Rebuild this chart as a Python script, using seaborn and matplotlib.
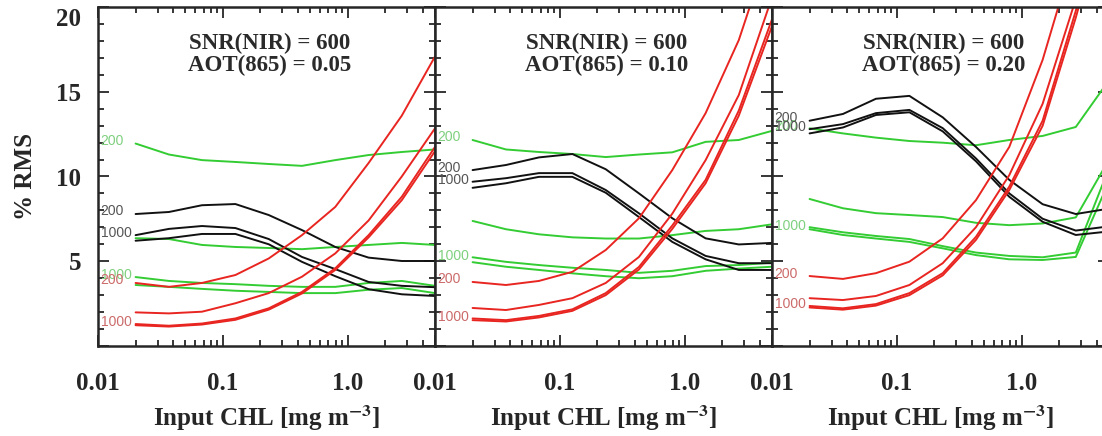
import numpy as np
import pandas as pd
import matplotlib
matplotlib.use("Agg")
import matplotlib.pyplot as plt
import matplotlib.transforms as mtransforms
import seaborn as sns
from matplotlib.ticker import FixedLocator, MultipleLocator, LogLocator, NullFormatter

# Input chlorophyll values (x positions of the curve vertices)
chl = [0.02, 0.037, 0.068, 0.126, 0.233, 0.43, 0.795, 1.47, 2.71, 5.0]

# AOT(865) = 0.05
green_005 = [[11.95, 11.3, 10.97, 10.86, 10.74, 10.63, 10.97, 11.27, 11.45, 11.6],
             [6.35, 6.3, 5.95, 5.83, 5.77, 5.7, 5.83, 5.95, 6.07, 5.95],
             [4.05, 3.82, 3.7, 3.63, 3.53, 3.47, 3.47, 3.7, 3.82, 3.53],
             [3.58, 3.47, 3.35, 3.24, 3.17, 3.1, 3.1, 3.3, 3.4, 3.1]]
black_005 = [[7.78, 7.9, 8.3, 8.37, 7.72, 6.83, 5.83, 5.2, 5.0, 5.0],
             [6.53, 6.9, 7.07, 6.95, 6.3, 5.24, 4.52, 3.76, 3.53, 3.45],
             [6.2, 6.35, 6.6, 6.6, 5.99, 4.95, 4.1, 3.33, 3.03, 2.93]]
red_005 = [[3.7, 3.47, 3.7, 4.17, 5.15, 6.53, 8.2, 10.8, 13.6, 17.1],
           [1.96, 1.9, 2.0, 2.5, 3.1, 4.07, 5.45, 7.4, 10.0, 12.85],
           [1.27, 1.17, 1.3, 1.6, 2.2, 3.17, 4.57, 6.53, 8.8, 11.75],
           [1.2, 1.12, 1.24, 1.52, 2.12, 3.08, 4.47, 6.4, 8.6, 11.5]]

# AOT(865) = 0.10
green_010 = [[12.16, 11.6, 11.45, 11.33, 11.15, 11.3, 11.43, 12.05, 12.16, 12.7],
             [7.37, 6.88, 6.58, 6.4, 6.33, 6.33, 6.53, 6.78, 6.88, 7.17],
             [5.22, 4.95, 4.76, 4.6, 4.47, 4.3, 4.42, 4.7, 4.76, 4.9],
             [4.93, 4.66, 4.47, 4.27, 4.1, 3.98, 4.1, 4.42, 4.55, 4.66]]
black_010 = [[10.38, 10.68, 11.13, 11.33, 10.43, 9.0, 7.53, 6.34, 5.98, 6.07],
             [9.69, 9.9, 10.2, 10.2, 9.2, 7.82, 6.34, 5.3, 4.87, 4.87],
             [9.33, 9.6, 9.98, 9.98, 9.04, 7.6, 6.13, 5.1, 4.47, 4.47]]
red_010 = [[3.76, 3.58, 3.82, 4.36, 5.65, 7.53, 10.38, 13.75, 18.07, 24.0],
           [2.22, 2.1, 2.4, 2.8, 3.7, 5.24, 7.8, 10.97, 14.82, 20.6],
           [1.6, 1.5, 1.75, 2.14, 3.1, 4.65, 7.1, 9.8, 13.9, 19.3],
           [1.5, 1.42, 1.66, 2.05, 2.98, 4.5, 6.9, 9.6, 13.6, 18.9]]

# AOT(865) = 0.20
green_020 = [[12.85, 12.55, 12.3, 12.1, 12.0, 11.85, 12.16, 12.4, 12.93, 15.7],
             [8.67, 8.12, 7.83, 7.72, 7.6, 7.26, 7.12, 7.22, 7.58, 11.0],
             [7.0, 6.7, 6.48, 6.3, 5.88, 5.5, 5.3, 5.22, 5.5, 10.5],
             [6.88, 6.54, 6.33, 6.13, 5.75, 5.35, 5.1, 5.06, 5.24, 9.7]]
black_020 = [[13.3, 13.7, 14.6, 14.77, 13.5, 11.75, 9.8, 8.36, 7.78, 8.1],
             [12.8, 13.1, 13.75, 13.94, 12.86, 11.07, 9.0, 7.5, 6.8, 7.05],
             [12.55, 12.9, 13.64, 13.8, 12.67, 10.9, 8.8, 7.32, 6.54, 6.75]]
red_020 = [[4.11, 3.94, 4.28, 4.96, 6.34, 8.6, 11.75, 16.9, 23.5, 30.0],
           [2.8, 2.69, 2.93, 3.58, 4.87, 7.0, 10.08, 14.3, 20.5, 28.0],
           [2.34, 2.2, 2.45, 3.1, 4.28, 6.43, 9.4, 13.3, 19.8, 27.0],
           [2.25, 2.12, 2.36, 2.98, 4.15, 6.25, 9.2, 13.0, 19.4, 26.5]]

aot_labels = ["0.05", "0.10", "0.20"]
snr_nir = 600
curve_labels = ["200", "1000"]
x_ticks = [0.01, 0.1, 1.0]
x_ticklabels = ["0.01", "0.1", "1.0"]
y_ticks = [5, 10, 15, 20]

panels = [(green_005, black_005, red_005),
          (green_010, black_010, red_010),
          (green_020, black_020, red_020)]

line_colors = ["#33cc33", "#111111", "#e82520"]
text_colors = ["#7fd07f", "#555555", "#cc6a6a"]

sns.set_style("ticks")
plt.rcParams["font.family"] = ["Liberation Serif", "DejaVu Serif"]
plt.rcParams["mathtext.fontset"] = "stix"

W, H = 1102, 436
fig = plt.figure(figsize=(W / 100, H / 100), dpi=100)

ax_w = 337
lefts = [98, 435, 772]
bottom_px, top_px = 345.5, 7.5

for i, (groups, aot) in enumerate(zip(panels, aot_labels)):
    ax = fig.add_axes([lefts[i] / W, (H - bottom_px) / H, ax_w / W, (bottom_px - top_px) / H])
    for lines, lc, tc in zip(groups, line_colors, text_colors):
        for vals in lines:
            sns.lineplot(x=chl, y=vals, ax=ax, color=lc, lw=1.4, estimator=None, sort=False)
        # curve labels next to the start of the 200 / 1000 curves
        ax.text(0.0105, lines[0][0] + 0.15, curve_labels[0], color=tc, fontsize=10,
                family="Liberation Sans", ha="left", va="center")
        ax.text(0.0105, lines[-2][0] + 0.1, curve_labels[1], color=tc, fontsize=10,
                family="Liberation Sans", ha="left", va="center")

    ax.set_xscale("log")
    ax.set_xlim(0.01, 5.0)
    ax.set_ylim(0, 20)
    ax.xaxis.set_major_locator(FixedLocator(x_ticks))
    ax.set_xticklabels(x_ticklabels)
    ax.xaxis.set_minor_locator(LogLocator(base=10, subs=np.arange(2, 10)))
    ax.xaxis.set_minor_formatter(NullFormatter())
    ax.yaxis.set_major_locator(FixedLocator([0] + y_ticks))
    ax.yaxis.set_minor_locator(MultipleLocator(1))
    ax.set_yticklabels([""] + [str(v) for v in y_ticks])

    ax.tick_params(which="both", direction="in", top=True, right=True, width=1.3)
    ax.tick_params(which="major", length=8, labelsize=18, pad=12)
    ax.tick_params(which="minor", length=4)
    ax.tick_params(axis="x", which="major", pad=19)
    for lab in ax.get_xticklabels() + ax.get_yticklabels():
        lab.set_fontweight("bold")
    for sp in ax.spines.values():
        sp.set_linewidth(1.8)
        sp.set_visible(True)

    if i > 0:
        ax.tick_params(labelleft=False)
        ax.set_ylabel("")
    else:
        ax.set_ylabel("% RMS", fontsize=18, fontweight="bold", labelpad=14)
        # top label sits a little below the frame, as in the original
        top_lab = ax.get_yticklabels()[-1]
        top_lab.set_transform(top_lab.get_transform() +
                              mtransforms.ScaledTranslation(0, -10 / 100, fig.dpi_scale_trans))

    ax.set_xlabel("Input CHL [mg m$^{\\mathbf{-3}}$]", fontsize=18, fontweight="bold", labelpad=6)

    ax.text(0.51, 0.86, f"SNR(NIR) = {snr_nir}\nAOT(865) = {aot}", transform=ax.transAxes,
            ha="center", va="center", fontsize=16.5, fontweight="bold", color="#2a2a2a",
            linespacing=1.05)

fig.savefig("out.png", dpi=100)
